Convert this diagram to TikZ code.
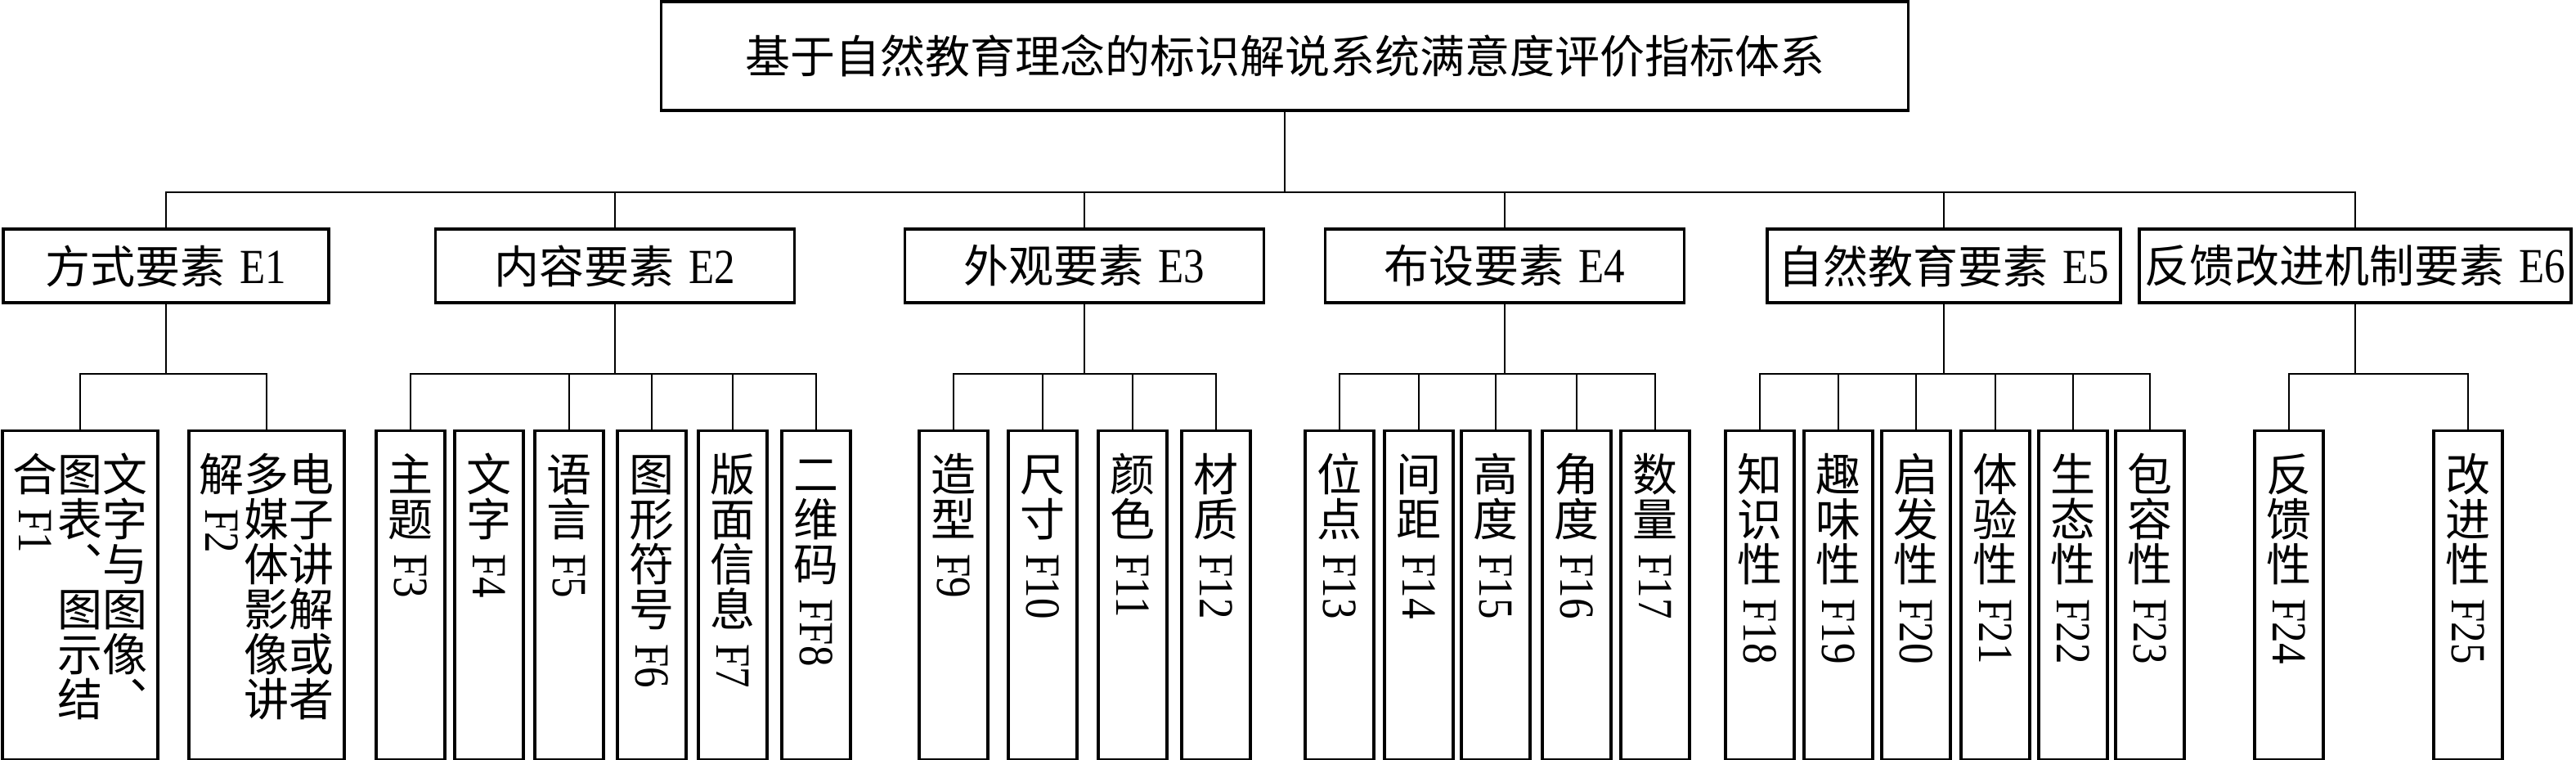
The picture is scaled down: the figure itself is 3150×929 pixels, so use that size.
\documentclass[tikz,border=0pt]{standalone}
\usepackage{fontspec}
\usepackage{graphicx}
\setmainfont{Noto Sans CJK SC}
\newfontfamily\lat{Liberation Serif}
\newlength\cw \setlength\cw{13.75pt}
\newcommand\lt[1]{\scalebox{0.85}[1]{\lat\fontsize{15}{15}\selectfont #1}}
\newcommand\C[1]{\hbox to \cw{\hss\vbox to \cw{\vss\hbox{\vrule height 0.88em depth 0.12em width 0pt #1}\vss}\hss}}
\newcommand\R[1]{\vskip 4pt\hbox to \cw{\hss\rotatebox{-90}{\lt{#1}}\hss}}
\newcommand\V[1]{\vtop{\offinterlineskip #1}}
\newcommand\VT[1]{\vbox to 100.5pt{\vskip 6.25pt\hbox{#1}\vfill}}
\newcommand\HT[2]{#1\hspace{4.5pt}\lt{#2}}
\tikzset{
  every node/.style={font=\fontsize{13.75pt}{16pt}\selectfont},
  topbox/.style={draw, line width=0.8pt, inner sep=0pt, minimum width=381.25pt, minimum height=33.25pt},
  midbox/.style={draw, line width=0.8pt, inner sep=0pt, minimum height=22.5pt},
  leaf/.style={draw, line width=0.8pt, inner sep=0pt, minimum width=21pt, anchor=north},
  wide/.style={leaf, minimum width=47.5pt},
  stem/.style={line width=0.5pt},
  bus/.style={line width=0.7pt, line cap=rect}
}
\begin{document}
\begin{tikzpicture}[x=0.25pt,y=-0.25pt]
\useasboundingbox (0,0) rectangle (3150,929);
% top
\node[topbox] (top) at (1571,68.5) {基于自然教育理念的标识解说系统满意度评价指标体系};
% level 2
\node[midbox, minimum width=99.5pt]  (e1) at (203,325)  {\HT{方式要素}{E1}};
\node[midbox, minimum width=109.75pt] (e2) at (752,325)  {\HT{内容要素}{E2}};
\node[midbox, minimum width=109.75pt] (e3) at (1326,325) {\HT{外观要素}{E3}};
\node[midbox, minimum width=109.75pt] (e4) at (1840,325) {\HT{布设要素}{E4}};
\node[midbox, minimum width=108pt]   (e5) at (2377,325) {\HT{自然教育要素}{E5}};
\node[midbox, minimum width=132pt]   (e6) at (2880,325) {\HT{反馈改进机制要素}{E6}};
% level 3
\node[wide] (f1) at (98,525)  {\VT{\V{\C{合}\R{F1}}\V{\C{图}\C{表}\C{︑}\C{图}\C{示}\C{结}}\V{\C{文}\C{字}\C{与}\C{图}\C{像}\C{︑}}}};
\node[wide] (f2) at (326,525) {\VT{\V{\C{解}\R{F2}}\V{\C{多}\C{媒}\C{体}\C{影}\C{像}\C{讲}}\V{\C{电}\C{子}\C{讲}\C{解}\C{或}\C{者}}}};
\node[leaf] (f3) at (502,525)  {\VT{\V{\C{主}\C{题}\R{F3}}}};
\node[leaf] (f4) at (598,525)  {\VT{\V{\C{文}\C{字}\R{F4}}}};
\node[leaf] (f5) at (696,525)  {\VT{\V{\C{语}\C{言}\R{F5}}}};
\node[leaf] (f6) at (797,525)  {\VT{\V{\C{图}\C{形}\C{符}\C{号}\R{F6}}}};
\node[leaf] (f7) at (896,525)  {\VT{\V{\C{版}\C{面}\C{信}\C{息}\R{F7}}}};
\node[leaf] (f8) at (998,525)  {\VT{\V{\C{二}\C{维}\C{码}\R{FF8}}}};
\node[leaf] (f9) at (1166,525) {\VT{\V{\C{造}\C{型}\R{F9}}}};
\node[leaf] (f10) at (1275,525) {\VT{\V{\C{尺}\C{寸}\R{F10}}}};
\node[leaf] (f11) at (1385,525) {\VT{\V{\C{颜}\C{色}\R{F11}}}};
\node[leaf] (f12) at (1487,525) {\VT{\V{\C{材}\C{质}\R{F12}}}};
\node[leaf] (f13) at (1638,525) {\VT{\V{\C{位}\C{点}\R{F13}}}};
\node[leaf] (f14) at (1735,525) {\VT{\V{\C{间}\C{距}\R{F14}}}};
\node[leaf] (f15) at (1829,525) {\VT{\V{\C{高}\C{度}\R{F15}}}};
\node[leaf] (f16) at (1928,525) {\VT{\V{\C{角}\C{度}\R{F16}}}};
\node[leaf] (f17) at (2024,525) {\VT{\V{\C{数}\C{量}\R{F17}}}};
\node[leaf] (f18) at (2152,525) {\VT{\V{\C{知}\C{识}\C{性}\R{F18}}}};
\node[leaf] (f19) at (2248,525) {\VT{\V{\C{趣}\C{味}\C{性}\R{F19}}}};
\node[leaf] (f20) at (2343,525) {\VT{\V{\C{启}\C{发}\C{性}\R{F20}}}};
\node[leaf] (f21) at (2440,525) {\VT{\V{\C{体}\C{验}\C{性}\R{F21}}}};
\node[leaf] (f22) at (2535,525) {\VT{\V{\C{生}\C{态}\C{性}\R{F22}}}};
\node[leaf] (f23) at (2629,525) {\VT{\V{\C{包}\C{容}\C{性}\R{F23}}}};
\node[leaf] (f24) at (2799,525) {\VT{\V{\C{反}\C{馈}\C{性}\R{F24}}}};
\node[leaf] (f25) at (3018,525) {\VT{\V{\C{改}\C{进}\C{性}\R{F25}}}};
% bus levels
\coordinate (ya) at (0,235);
\coordinate (yb) at (0,457);
% top to level 2
\draw[stem] (top) -- (top |- ya);
\draw[bus] (e1 |- ya) -- (e6 |- ya);
\foreach \e in {e1,e2,e3,e4,e5,e6} \draw[stem] (\e |- ya) -- (\e);
% level 2 to level 3
\foreach \e in {e1,e2,e3,e4,e5,e6} \draw[stem] (\e) -- (\e |- yb);
\draw[bus] (f1 |- yb) -- (f2 |- yb);
\draw[bus] (f3 |- yb) -- (f8 |- yb);
\draw[bus] (f9 |- yb) -- (f12 |- yb);
\draw[bus] (f13 |- yb) -- (f17 |- yb);
\draw[bus] (f18 |- yb) -- (f23 |- yb);
\draw[bus] (f24 |- yb) -- (f25 |- yb);
\foreach \f in {f1,f2,f3,f5,f6,f7,f8,f9,f10,f11,f12,f13,f14,f15,f16,f17,f18,f19,f20,f21,f22,f23,f24,f25}
  \draw[stem] (\f |- yb) -- (\f.north);
\end{tikzpicture}
\end{document}
